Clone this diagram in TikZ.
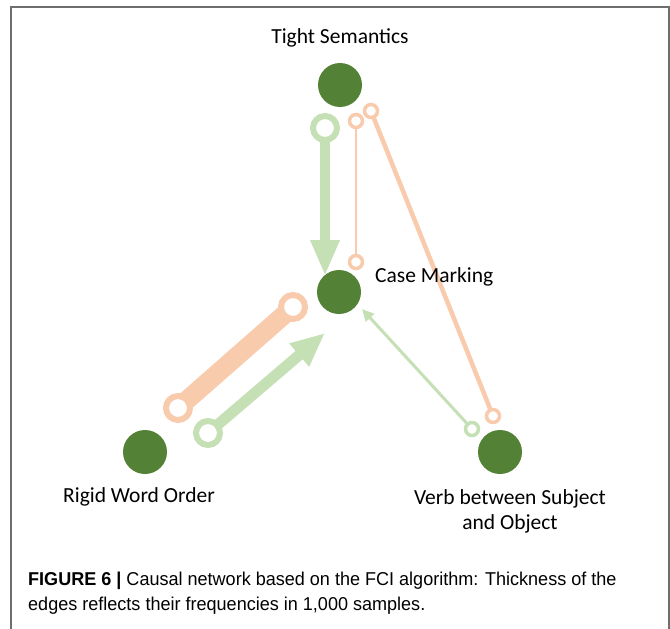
\documentclass[tikz,border=0pt]{standalone}
\usepackage{fontspec}
\setmainfont{Carlito}
\newfontfamily\capfont[FakeStretch=0.97]{Liberation Sans}
\usetikzlibrary{arrows.meta}
\definecolor{dkgreen}{HTML}{538135}
\definecolor{ltgreen}{HTML}{C5E0B4}
\definecolor{ltorange}{HTML}{F8CBAD}
\definecolor{framegray}{HTML}{6E6E6E}
\pgfdeclarelayer{bg}
\pgfsetlayers{bg,main}
\begin{document}
\begin{tikzpicture}[x=1pt,y=-1pt,
  var/.style={circle, fill=dkgreen, minimum size=44pt, inner sep=0pt},
  bigring/.style={circle, draw=#1, fill=white, line width=6pt, minimum size=24pt, inner sep=0pt},
  smallring/.style={circle, draw=#1, fill=white, line width=3.5pt, minimum size=13pt, inner sep=0pt},
  lbl/.style={font=\fontsize{21.5}{25}\selectfont, inner sep=0pt}]
\useasboundingbox (0,0) rectangle (670,629);
\draw[framegray, line width=2pt] (11,629) -- (11,7) -- (669,7) -- (669,629);

% variables
\node[var] (TS) at (340,85) {};
\node[var] (CM) at (339,292) {};
\node[var] (RW) at (145,452) {};
\node[var] (VB) at (500,452) {};

% labels
\node[lbl] (lTS) at (340,38) {Tight Semantics};
\node[lbl, anchor=west] (lCM) at (375,277) {Case Marking};
\node[lbl] (lRW) at (139,497) {Rigid Word Order};
\node[lbl, align=center] (lVB) at (510,511) {Verb between Subject\\and Object};

% edge marks
\node[bigring=ltgreen] (g1) at (325,128) {};
\coordinate (t1) at (325,276);
\node[smallring=ltorange] (o2a) at (356,121) {};
\node[smallring=ltorange] (o2b) at (356,262) {};
\node[smallring=ltorange] (o3a) at (371,111) {};
\node[smallring=ltorange] (o3b) at (493,416) {};
\node[smallring=ltgreen] (g4) at (472,429) {};
\coordinate (t4) at (362,309);
\node[bigring=ltorange] (o5a) at (178,408) {};
\node[bigring=ltorange] (o5b) at (293,307) {};
\node[bigring=ltgreen] (g6) at (208,433) {};
\coordinate (t6) at (325,333);

\begin{pgfonlayer}{bg}
\draw[ltgreen, line width=10pt, -{Triangle[width=27pt,length=36pt]}] (g1.center) -- (t1);
\draw[ltorange, line width=2pt] (o2a.center) -- (o2b.center);
\draw[ltorange, line width=4.5pt] (o3a.center) -- (o3b.center);
\draw[ltgreen, line width=3pt, -{Triangle[width=11pt,length=12pt]}] (g4.center) -- (t4);
\draw[ltorange, line width=19pt] (o5a.center) -- (o5b.center);
\draw[ltgreen, line width=11pt, -{Triangle[width=28pt,length=34pt]}] (g6.center) -- (t6);
\end{pgfonlayer}

% caption
\node[anchor=base west, inner sep=0pt, align=left, font=\capfont\fontsize{18.6}{25}\selectfont] (cap) at (28,610)
 {\textbf{FIGURE 6 |} Causal network based on the FCI algorithm: Thickness of the\\
  edges reflects their frequencies in 1,000 samples.};
\end{tikzpicture}
\end{document}
